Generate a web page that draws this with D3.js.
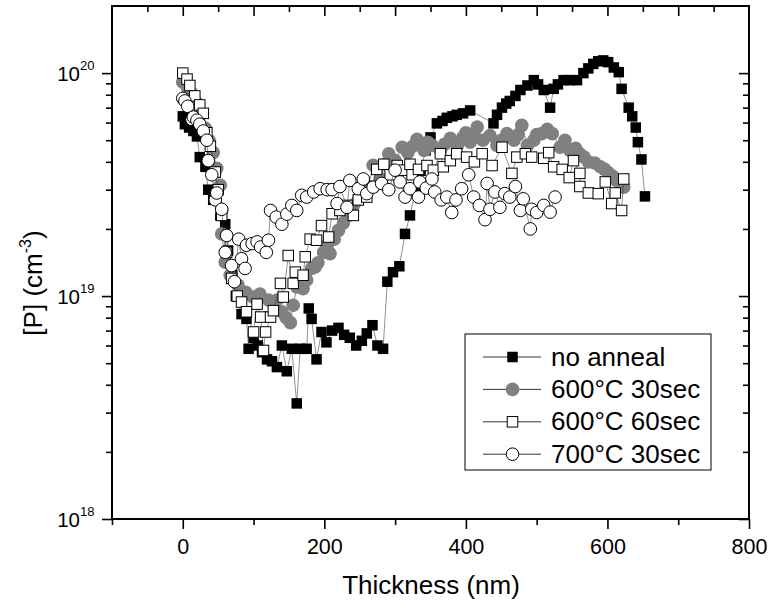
<!DOCTYPE html>
<html>
<head>
<meta charset="utf-8">
<script src="https://cdn.jsdelivr.net/npm/d3@7"></script>
<style>
    body { margin: 0; background: #fff; }
    svg { display: block; font-family: "Liberation Sans", Arial, sans-serif; }
</style>
</head>
<body>
<svg id="chart" width="768" height="604"></svg>
<script>
// series labels
const seriesNames = ["no anneal", "600°C 30sec", "600°C 60sec", "700°C 30sec"];

// [thickness nm, [P] cm-3]
const noAnneal = [
    [0, 6.4e19], [3, 5.9e19], [9, 5.7e19], [15, 5.5e19], [20, 5.2e19], [24, 4.2e19], [32, 3.8e19],
    [36, 3.0e19], [43, 2.7e19], [53, 2.3e19], [60, 2.1e19], [64, 1.6e19], [70, 1.24e19], [75, 1.0e19],
    [83, 8.3e18], [90, 7.9e18], [93, 5.8e18], [100, 6.5e18], [106, 6.0e18], [112, 5.6e18], [119, 5.2e18],
    [126, 5.1e18], [133, 4.8e18], [140, 6.0e18], [147, 4.6e18], [154, 5.8e18], [161, 3.3e18], [166, 5.8e18],
    [175, 5.8e18], [178, 8.8e18], [182, 7.9e18], [189, 5.2e18], [196, 6.9e18], [203, 6.2e18], [211, 7.0e18],
    [220, 7.2e18], [228, 6.7e18], [236, 6.5e18], [245, 6.0e18], [253, 6.3e18], [260, 6.8e18], [268, 7.4e18],
    [275, 6.0e18], [283, 5.8e18], [289, 1.16e19], [297, 1.28e19], [306, 1.36e19], [314, 1.9e19], [321, 2.3e19],
    [329, 3.0e19], [336, 3.65e19], [343, 4.5e19], [350, 5.15e19], [359, 5.95e19], [367, 6.1e19], [373, 6.3e19],
    [381, 6.4e19], [387, 6.5e19], [396, 6.6e19], [406, 6.8e19], [439, 5.95e19], [444, 6.5e19], [451, 7.0e19],
    [457, 7.3e19], [462, 7.5e19], [470, 7.9e19], [477, 8.4e19], [487, 8.8e19], [496, 9.3e19], [502, 8.9e19],
    [510, 8.4e19], [519, 7.0e19], [524, 8.5e19], [530, 8.9e19], [538, 9.3e19], [547, 9.3e19], [557, 9.3e19],
    [566, 1.0e20], [573, 1.05e20], [580, 1.1e20], [587, 1.13e20], [594, 1.14e20], [601, 1.12e20], [609, 1.06e20],
    [616, 1.01e20], [620, 8.5e19], [630, 7.0e19], [635, 6.4e19], [640, 5.7e19], [643, 4.9e19], [648, 4.1e19],
    [653, 2.8e19]
];

const anneal600s30 = [
    [0, 9.1e19], [7, 8.5e19], [13, 8.1e19], [19, 7.4e19], [24, 6.45e19], [32, 5.65e19], [37, 5.0e19],
    [43, 4.4e19], [48, 3.74e19], [53, 3.14e19], [55, 2.42e19], [55, 1.9e19], [60, 1.42e19], [67, 1.24e19],
    [78, 1.12e19], [89, 1.04e19], [99, 9.9e18], [109, 1.02e19], [121, 9.6e18], [133, 9.6e18], [140, 8.5e18],
    [146, 8.0e18], [152, 7.6e18], [156, 9.1e18], [161, 1.1e19], [170, 1.08e19], [175, 1.18e19], [182, 1.33e19],
    [187, 1.35e19], [191, 1.41e19], [199, 1.57e19], [204, 1.69e19], [208, 1.55e19], [214, 1.8e19], [220, 1.97e19],
    [227, 2.13e19], [234, 2.3e19], [241, 2.55e19], [248, 2.7e19], [256, 2.84e19], [262, 3.1e19], [269, 3.86e19],
    [279, 3.37e19], [285, 3.9e19], [291, 4.35e19], [300, 4.05e19], [310, 4.65e19], [318, 4.4e19], [325, 4.7e19],
    [331, 5.05e19], [341, 4.5e19], [346, 4.9e19], [352, 4.74e19], [364, 4.5e19], [370, 4.8e19], [378, 5.1e19],
    [388, 4.74e19], [396, 5.15e19], [400, 5.4e19], [406, 4.9e19], [412, 5.2e19], [416, 5.73e19], [424, 5.0e19],
    [434, 5.25e19], [444, 4.74e19], [450, 5.0e19], [458, 5.35e19], [468, 5.0e19], [474, 5.3e19], [479, 5.83e19],
    [487, 4.74e19], [496, 5.0e19], [500, 5.3e19], [507, 5.35e19], [515, 5.6e19], [522, 5.35e19], [533, 4.65e19],
    [540, 5.0e19], [547, 4.5e19], [555, 4.6e19], [561, 4.35e19], [567, 4.2e19], [573, 4.0e19], [582, 3.95e19],
    [590, 3.8e19], [596, 3.7e19], [601, 3.58e19], [607, 3.45e19], [613, 3.3e19], [618, 3.2e19], [623, 3.08e19]
];

const anneal600s60 = [
    [0, 1.0e20], [6, 9.4e19], [10, 8.8e19], [17, 7.9e19], [24, 7.2e19], [29, 6.6e19], [34, 5.4e19],
    [39, 4.7e19], [46, 3.6e19], [50, 3.0e19], [55, 2.3e19], [62, 1.57e19], [69, 1.2e19], [77, 1.0e19],
    [83, 9.4e18], [90, 8.5e18], [100, 6.9e18], [105, 9.2e18], [110, 8.05e18], [114, 5.7e18], [117, 6.9e18],
    [124, 8.05e18], [128, 8.6e18], [138, 1.14e19], [142, 9.9e18], [149, 1.52e19], [156, 1.14e19], [159, 1.28e19],
    [170, 1.24e19], [173, 1.5e19], [180, 1.8e19], [189, 1.78e19], [196, 2.07e19], [206, 1.84e19], [211, 2.34e19],
    [222, 2.42e19], [232, 2.55e19], [241, 2.3e19], [248, 2.7e19], [260, 2.78e19], [268, 3.1e19], [274, 3.7e19],
    [284, 3.9e19], [293, 3.5e19], [303, 3.85e19], [313, 3.67e19], [321, 3.9e19], [324, 3.5e19], [333, 3.7e19],
    [345, 3.85e19], [354, 3.67e19], [364, 4.35e19], [368, 3.8e19], [378, 4.05e19], [387, 4.35e19], [401, 4.2e19],
    [412, 4.0e19], [423, 4.35e19], [437, 3.85e19], [451, 4.65e19], [465, 3.55e19], [472, 4.2e19], [484, 4.35e19],
    [493, 4.2e19], [510, 4.15e19], [517, 4.4e19], [524, 3.8e19], [536, 3.7e19], [546, 3.4e19], [552, 4.05e19],
    [561, 3.55e19], [561, 3.1e19], [573, 2.9e19], [587, 2.88e19], [597, 3.25e19], [606, 2.6e19], [611, 2.9e19],
    [620, 2.42e19], [623, 3.35e19]
];

const anneal700s30 = [
    [0, 7.7e19], [3, 7.5e19], [7, 7.1e19], [13, 6.2e19], [15, 6.35e19], [20, 6.15e19], [24, 5.9e19],
    [29, 5.5e19], [34, 5.0e19], [36, 4.05e19], [41, 3.5e19], [46, 2.7e19], [48, 2.9e19], [55, 2.45e19],
    [60, 1.57e19], [62, 1.87e19], [69, 1.37e19], [73, 1.16e19], [79, 1.8e19], [83, 1.47e19], [88, 1.33e19],
    [90, 1.69e19], [98, 1.72e19], [105, 1.75e19], [110, 1.66e19], [118, 1.57e19], [121, 1.78e19], [124, 2.42e19],
    [132, 2.26e19], [140, 2.1e19], [147, 2.33e19], [154, 2.55e19], [161, 2.42e19], [168, 2.83e19], [175, 2.78e19],
    [185, 2.93e19], [194, 3.03e19], [204, 3.0e19], [211, 3.0e19], [218, 2.6e19], [222, 3.1e19], [232, 2.5e19],
    [236, 3.3e19], [248, 3.03e19], [255, 3.35e19], [260, 2.88e19], [269, 3.08e19], [281, 3.2e19], [291, 3.0e19],
    [300, 3.67e19], [307, 3.25e19], [314, 2.78e19], [321, 3.03e19], [333, 2.78e19], [335, 3.25e19], [344, 3.05e19],
    [352, 3.35e19], [356, 2.93e19], [365, 2.7e19], [373, 2.78e19], [380, 2.37e19], [386, 2.7e19], [394, 3.03e19],
    [404, 3.5e19], [411, 2.78e19], [419, 2.55e19], [427, 2.2e19], [430, 3.2e19], [434, 2.45e19], [441, 2.93e19],
    [448, 2.5e19], [455, 2.88e19], [462, 2.78e19], [470, 3.1e19], [477, 2.42e19], [481, 2.73e19], [491, 2.0e19],
    [493, 2.45e19], [500, 2.37e19], [510, 2.55e19], [519, 2.38e19], [526, 2.78e19]
];

// ticks
const xMajorTicks = [0, 200, 400, 600, 800];
const xMinorTicks = [-100, 100, 300, 500, 700];
const xTopMajorTicks = [0, 100, 200, 300, 400, 500, 600, 700];
const xTopMinorTicks = [-50, 50, 150, 250, 350, 450, 550, 650, 750];
const yMajorTicks = [1e18, 1e19, 1e20];
const yExponents = ["18", "19", "20"];
const yMinorTicks = [2e18, 3e18, 4e18, 5e18, 6e18, 7e18, 8e18, 9e18,
                     2e19, 3e19, 4e19, 5e19, 6e19, 7e19, 8e19, 9e19];

let svg = d3.select("#chart");
let plot = { left: 112, right: 749, top: 6, bottom: 519 };

let x = d3.scaleLinear().domain([-100, 800]).range([plot.left, plot.right]);
let y = d3.scaleLog().domain([1e18, 2e20]).range([plot.bottom, plot.top]);

let series = [
    { name: seriesNames[0], data: noAnneal, shape: "square", fill: "#000", stroke: "none" },
    { name: seriesNames[1], data: anneal600s30, shape: "circle", fill: "#808080", stroke: "none" },
    { name: seriesNames[2], data: anneal600s60, shape: "square", fill: "#fff", stroke: "#000" },
    { name: seriesNames[3], data: anneal700s30, shape: "circle", fill: "#fff", stroke: "#000" }
];

let markerSize = { square: 10.5, circle: 6.3 };

function drawMarker(sel, s, size) {
    if (s.shape === "square") {
        let h = size.square / 2;
        sel.append("rect")
            .attr("x", -h).attr("y", -h)
            .attr("width", size.square).attr("height", size.square)
            .attr("fill", s.fill)
            .attr("stroke", s.stroke)
            .attr("stroke-width", 1);
    } else {
        sel.append("circle")
            .attr("r", s.stroke === "none" ? size.circle + 0.5 : size.circle)
            .attr("fill", s.fill)
            .attr("stroke", s.stroke)
            .attr("stroke-width", 1);
    }
}

// data
let line = d3.line().x(d => x(d[0])).y(d => y(d[1]));
let gData = svg.append("g").attr("class", "data");
series.forEach(s => {
    let g = gData.append("g");
    g.append("path")
        .datum(s.data)
        .attr("d", line)
        .attr("fill", "none")
        .attr("stroke", "#222")
        .attr("stroke-width", 0.5);
    g.selectAll("g.pt")
        .data(s.data)
        .enter()
        .append("g")
        .attr("class", "pt")
        .attr("transform", d => `translate(${x(d[0])},${y(d[1])})`)
        .each(function () { drawMarker(d3.select(this), s, markerSize); });
});

// axes
function styleAxis(g) {
    g.select(".domain").remove();
    g.selectAll(".tick line").attr("stroke", "#000").attr("stroke-width", 1.6);
    g.attr("font-family", null).attr("font-size", null);
}

svg.append("g")
    .attr("transform", `translate(0,${plot.bottom})`)
    .call(d3.axisBottom(x).tickValues(xMajorTicks).tickSize(10).tickPadding(10).tickFormat(d3.format("d")))
    .call(styleAxis)
    .selectAll("text").attr("font-size", 21.5).attr("fill", "#000");
svg.append("g")
    .attr("transform", `translate(0,${plot.bottom})`)
    .call(d3.axisBottom(x).tickValues(xMinorTicks).tickSize(6).tickFormat(""))
    .call(styleAxis);
svg.append("g")
    .attr("transform", `translate(0,${plot.top})`)
    .call(d3.axisTop(x).tickValues(xTopMajorTicks).tickSize(-10).tickFormat(""))
    .call(styleAxis);
svg.append("g")
    .attr("transform", `translate(0,${plot.top})`)
    .call(d3.axisTop(x).tickValues(xTopMinorTicks).tickSize(-6).tickFormat(""))
    .call(styleAxis);

svg.append("g")
    .attr("transform", `translate(${plot.left},0)`)
    .call(d3.axisLeft(y).tickValues(yMajorTicks).tickSize(10).tickFormat(""))
    .call(styleAxis);
svg.append("g")
    .attr("transform", `translate(${plot.left},0)`)
    .call(d3.axisLeft(y).tickValues(yMinorTicks).tickSize(6).tickFormat(""))
    .call(styleAxis);
svg.append("g")
    .attr("transform", `translate(${plot.right},0)`)
    .call(d3.axisRight(y).tickValues(yMajorTicks).tickSize(-10).tickFormat(""))
    .call(styleAxis);
svg.append("g")
    .attr("transform", `translate(${plot.right},0)`)
    .call(d3.axisRight(y).tickValues(yMinorTicks).tickSize(-6).tickFormat(""))
    .call(styleAxis);

let yLabels = svg.append("g").selectAll("text")
    .data(yMajorTicks)
    .enter()
    .append("text")
    .attr("x", 94.5)
    .attr("y", d => y(d) + 8)
    .attr("text-anchor", "end")
    .attr("fill", "#000");
yLabels.append("tspan").attr("font-size", 20.5).text("10");
yLabels.append("tspan").attr("font-size", 13).attr("dy", -11).text((d, i) => yExponents[i]);

// frame
svg.append("rect")
    .attr("x", plot.left).attr("y", plot.top)
    .attr("width", plot.right - plot.left).attr("height", plot.bottom - plot.top)
    .attr("fill", "none").attr("stroke", "#000").attr("stroke-width", 2);

// axis titles
svg.append("text")
    .attr("x", 431).attr("y", 594)
    .attr("text-anchor", "middle")
    .attr("font-size", 26)
    .text("Thickness (nm)");

let yTitle = svg.append("text")
    .attr("transform", "translate(41.5,283) rotate(-90)")
    .attr("text-anchor", "middle")
    .attr("font-size", 26);
yTitle.append("tspan").text("[P] (cm");
yTitle.append("tspan").attr("font-size", 16).attr("dy", -11).text("-3");
yTitle.append("tspan").attr("dy", 11).text(")");

// legend
let legend = svg.append("g").attr("class", "legend");
legend.append("rect")
    .attr("x", 465).attr("y", 334).attr("width", 246).attr("height", 136)
    .attr("fill", "#fff").attr("stroke", "#000").attr("stroke-width", 1);
series.forEach((s, i) => {
    let row = legend.append("g").attr("transform", `translate(0,${357 + i * 32.4})`);
    row.append("line")
        .attr("x1", 483).attr("x2", 541)
        .attr("stroke", "#000").attr("stroke-width", 0.8);
    let m = row.append("g").attr("transform", "translate(512.5,0)");
    drawMarker(m, s, markerSize);
    row.append("text")
        .attr("x", 551).attr("y", 8.5)
        .attr("font-size", 26)
        .text(s.name);
});
</script>
</body>
</html>
